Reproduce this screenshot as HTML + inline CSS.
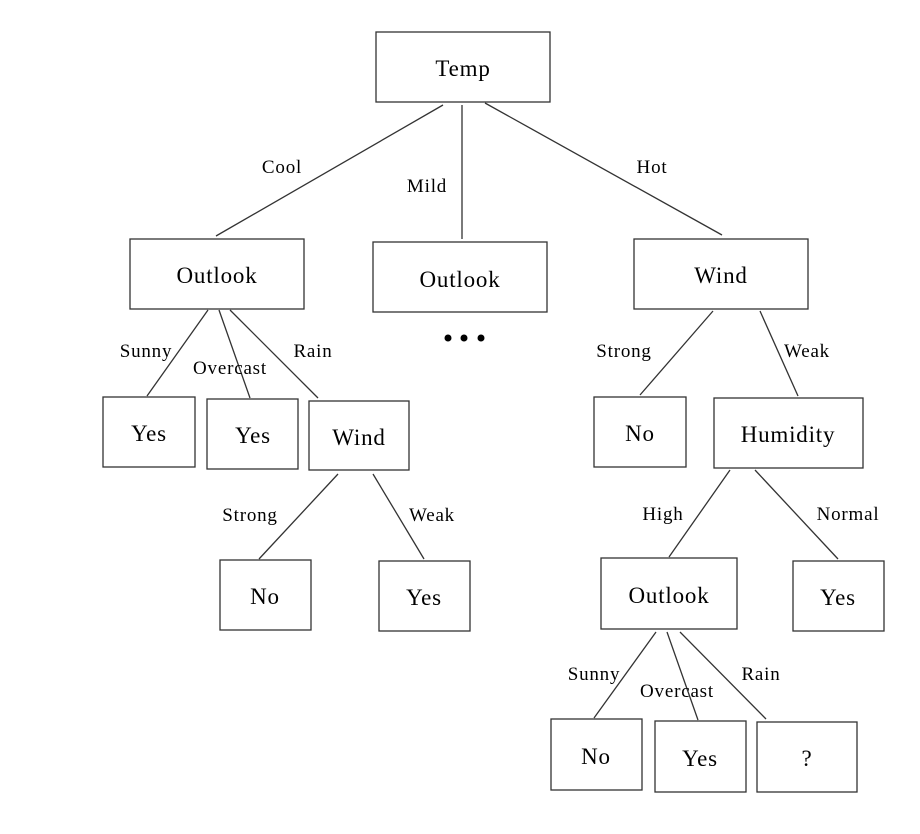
<!DOCTYPE html>
<html><head><style>html,body{margin:0;padding:0;background:#fff}svg{display:block}</style></head>
<body>
<svg width="920" height="834" xmlns="http://www.w3.org/2000/svg" font-family="Liberation Serif, serif">
<g fill="#fff" stroke="#333" stroke-width="1.3">
<rect x="376" y="32" width="174" height="70"/>
<rect x="130" y="239" width="174" height="70"/>
<rect x="373" y="242" width="174" height="70"/>
<rect x="634" y="239" width="174" height="70"/>
<rect x="103" y="397" width="92" height="70"/>
<rect x="207" y="399" width="91" height="70"/>
<rect x="309" y="401" width="100" height="69"/>
<rect x="594" y="397" width="92" height="70"/>
<rect x="714" y="398" width="149" height="70"/>
<rect x="220" y="560" width="91" height="70"/>
<rect x="379" y="561" width="91" height="70"/>
<rect x="601" y="558" width="136" height="71"/>
<rect x="793" y="561" width="91" height="70"/>
<rect x="551" y="719" width="91" height="71"/>
<rect x="655" y="721" width="91" height="71"/>
<rect x="757" y="722" width="100" height="70"/>
</g>
<g stroke="#333" stroke-width="1.3">
<line x1="443" y1="105" x2="216" y2="236"/>
<line x1="462" y1="105" x2="462" y2="239"/>
<line x1="485" y1="103" x2="722" y2="235"/>
<line x1="208" y1="310" x2="147" y2="396"/>
<line x1="219" y1="310" x2="250" y2="398"/>
<line x1="230" y1="310" x2="318" y2="398"/>
<line x1="713" y1="311" x2="640" y2="395"/>
<line x1="760" y1="311" x2="798" y2="396"/>
<line x1="338" y1="474" x2="259" y2="559"/>
<line x1="373" y1="474" x2="424" y2="559"/>
<line x1="730" y1="470" x2="669" y2="557"/>
<line x1="755" y1="470" x2="838" y2="559"/>
<line x1="656" y1="632" x2="594" y2="718"/>
<line x1="667" y1="632" x2="698" y2="720"/>
<line x1="680" y1="632" x2="766" y2="719"/>
</g>
<g fill="#000" font-size="23" letter-spacing="0.8" text-anchor="middle">
<text x="463" y="76">Temp</text>
<text x="217" y="283">Outlook</text>
<text x="460" y="287">Outlook</text>
<text x="721" y="283">Wind</text>
<text x="149" y="441">Yes</text>
<text x="253" y="443">Yes</text>
<text x="359" y="445">Wind</text>
<text x="640" y="441">No</text>
<text x="788" y="442">Humidity</text>
<text x="265" y="604">No</text>
<text x="424" y="605">Yes</text>
<text x="669" y="603">Outlook</text>
<text x="838" y="605">Yes</text>
<text x="596" y="764">No</text>
<text x="700" y="766">Yes</text>
<text x="807" y="766">?</text>
</g>
<g fill="#000" font-size="19" letter-spacing="0.8" text-anchor="middle">
<text x="282" y="173">Cool</text>
<text x="427" y="192">Mild</text>
<text x="652" y="173">Hot</text>
<text x="146" y="357">Sunny</text>
<text x="230" y="374">Overcast</text>
<text x="313" y="357">Rain</text>
<text x="624" y="357">Strong</text>
<text x="807" y="357">Weak</text>
<text x="250" y="521">Strong</text>
<text x="432" y="521">Weak</text>
<text x="663" y="520">High</text>
<text x="848" y="520">Normal</text>
<text x="594" y="680">Sunny</text>
<text x="677" y="697">Overcast</text>
<text x="761" y="680">Rain</text>
</g>
<g fill="#000">
<circle cx="448" cy="338" r="3.5"/>
<circle cx="464" cy="338" r="3.5"/>
<circle cx="481" cy="338" r="3.5"/>
</g>
</svg>
</body></html>
